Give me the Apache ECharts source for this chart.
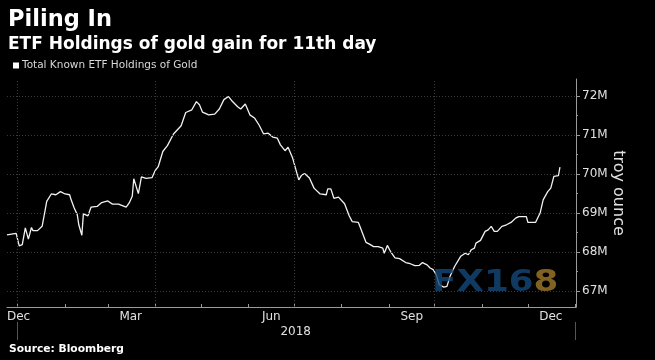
<!DOCTYPE html>
<html>
<head>
<meta charset="utf-8">
<script src="https://cdn.jsdelivr.net/npm/echarts@6/dist/echarts.min.js"></script>
<style>
  html, body { margin: 0; padding: 0; background: #000; }
  #chart { width: 655px; height: 360px; }
</style>
</head>
<body>
<div id="chart"></div>
<script>
// ---- data ----
const seriesName = 'Total Known ETF Holdings of Gold';
const dates = [
  '2017-12-25','2017-12-31','2018-01-02','2018-01-04','2018-01-06','2018-01-07','2018-01-08','2018-01-10','2018-01-11','2018-01-14',
  '2018-01-17','2018-01-19','2018-01-20','2018-01-23','2018-01-26','2018-01-29','2018-01-30','2018-02-01','2018-02-04','2018-02-05',
  '2018-02-07','2018-02-09','2018-02-10','2018-02-12','2018-02-13','2018-02-14','2018-02-16','2018-02-18','2018-02-22','2018-02-25',
  '2018-03-01','2018-03-04','2018-03-08','2018-03-13','2018-03-15','2018-03-17','2018-03-18','2018-03-19','2018-03-21','2018-03-23',
  '2018-03-26','2018-03-30','2018-04-01','2018-04-03','2018-04-06','2018-04-09','2018-04-13','2018-04-18','2018-04-21','2018-04-25',
  '2018-04-28','2018-04-30','2018-05-02','2018-05-06','2018-05-10','2018-05-13','2018-05-16','2018-05-19','2018-05-21','2018-05-25',
  '2018-05-27','2018-05-30','2018-06-02','2018-06-05','2018-06-08','2018-06-11','2018-06-14','2018-06-17','2018-06-20','2018-06-22',
  '2018-06-25','2018-06-27','2018-06-30','2018-07-04','2018-07-06','2018-07-08','2018-07-11','2018-07-14','2018-07-18','2018-07-22',
  '2018-07-23','2018-07-25','2018-07-27','2018-07-30','2018-08-03','2018-08-06','2018-08-08','2018-08-12','2018-08-13','2018-08-17',
  '2018-08-19','2018-08-22','2018-08-25','2018-08-28','2018-08-29','2018-08-31','2018-09-02','2018-09-05','2018-09-08','2018-09-12',
  '2018-09-15','2018-09-18','2018-09-21','2018-09-23','2018-09-26','2018-09-28','2018-09-30','2018-10-02','2018-10-04','2018-10-07',
  '2018-10-09','2018-10-11','2018-10-14','2018-10-18','2018-10-21','2018-10-23','2018-10-25','2018-10-27','2018-10-28','2018-10-31',
  '2018-11-01','2018-11-03','2018-11-05','2018-11-07','2018-11-09','2018-11-11','2018-11-14','2018-11-17','2018-11-20','2018-11-23',
  '2018-11-25','2018-11-30','2018-12-01','2018-12-06','2018-12-09','2018-12-11','2018-12-14','2018-12-16','2018-12-18','2018-12-21',
  '2018-12-22'
];
const holdings = [
  68.44,68.48,68.16,68.19,68.62,68.60,68.33,68.63,68.55,68.55,
  68.66,69.08,69.30,69.49,69.47,69.55,69.57,69.49,69.47,69.34,
  69.13,68.96,68.70,68.43,68.98,69.02,68.93,69.15,69.17,69.27,
  69.31,69.23,69.23,69.15,69.26,69.43,69.88,69.89,69.50,69.93,
  69.89,69.91,70.09,70.19,70.58,70.73,71.03,71.24,71.58,71.65,
  71.86,71.78,71.59,71.52,71.54,71.67,71.91,71.99,71.89,71.73,
  71.67,71.80,71.52,71.44,71.26,71.03,71.05,70.95,70.92,70.75,
  70.60,70.69,70.41,69.85,69.98,70.01,69.90,69.64,69.49,69.47,
  69.62,69.62,69.38,69.41,69.24,68.93,68.78,68.76,68.66,68.25,
  68.21,68.14,68.14,68.10,67.97,68.17,68.02,67.85,67.83,67.73,
  67.70,67.65,67.66,67.73,67.67,67.59,67.55,67.42,67.16,67.10,
  67.12,67.37,67.63,67.89,67.97,67.93,68.06,68.10,68.23,68.30,
  68.32,68.53,68.57,68.66,68.53,68.53,68.66,68.70,68.76,68.87,
  68.91,68.91,68.76,68.76,69.00,69.34,69.55,69.64,69.94,69.96,
  70.18
];
const yTicks = [67, 68, 69, 70, 71, 72];
const yMinorTicks = [67.5, 68.5, 69.5, 70.5, 71.5];
const monthTickDates = ['2018-01-01','2018-02-01','2018-03-01','2018-04-01','2018-05-01','2018-06-01',
  '2018-07-01','2018-08-01','2018-09-01','2018-10-01','2018-11-01','2018-12-01','2019-01-01'];
const quarterGridDates = ['2018-01-01','2018-04-01','2018-07-01','2018-10-01'];
const xLabelDates = ['2017-12-25','2018-03-16','2018-06-16','2018-09-16','2018-12-16'];
const xLabelTexts = ['Dec','Mar','Jun','Sep','Dec'];
const yearLabelDates = ['2018-07-02'];
const yearLabelTexts = ['2018'];
const yearBoundaryDates = ['2018-01-01','2019-01-01'];
const xMinDate = '2017-12-25';
const xMaxDate = '2019-01-01 12:00';

// ---- build ----
const P = s => +echarts.time.parse(s);
const xMin = P(xMinDate), xMax = P(xMaxDate);
const yMin = 66.59, yMax = 72.44;
const FONT = 'DejaVu Sans';
const gridColor = '#3a3a3a';
const xLabelVals = xLabelDates.map(P);
const yearLabelVals = yearLabelDates.map(P);

const chart = echarts.init(document.getElementById('chart'), null, { renderer: 'canvas' });

const gridLines = [];
quarterGridDates.forEach(d => gridLines.push({ xAxis: P(d) }));
yTicks.forEach(v => gridLines.push({ yAxis: v }));

const option = {
  backgroundColor: '#000',
  animation: false,
  title: [
    { text: 'Piling In', left: 8, top: 9, padding: 0,
      textStyle: { color: '#fff', fontFamily: FONT, fontWeight: 'bold', fontSize: 22.5 } },
    { text: 'ETF Holdings of gold gain for 11th day', left: 8, top: 36, padding: 0,
      textStyle: { color: '#fff', fontFamily: FONT, fontWeight: 'bold', fontSize: 17 } },
    { text: 'Source: Bloomberg', left: 9, top: 344, padding: 0,
      textStyle: { color: '#fff', fontFamily: FONT, fontWeight: 'bold', fontSize: 10.7 } }
  ],
  legend: {
    data: [seriesName], left: 13, top: 60, itemWidth: 6, itemHeight: 6, itemGap: 4,
    icon: 'rect', padding: 0,
    textStyle: { color: '#d8d8d8', fontFamily: FONT, fontSize: 10.5, padding: [0, 0, 0, -2] }
  },
  grid: { left: 7, right: 79, top: 79, bottom: 53 },
  xAxis: [
    {
      type: 'value', min: xMin, max: xMax, position: 'bottom',
      axisLine: { show: true, onZero: false, lineStyle: { color: '#9a9a9a', width: 1 } },
      axisTick: { show: true, inside: true, length: 3, customValues: monthTickDates.map(P),
        lineStyle: { color: '#9a9a9a' } },
      axisLabel: {
        show: true, customValues: xLabelVals, margin: 4, alignMinLabel: 'left',
        color: '#e0e0e0', fontFamily: FONT, fontSize: 12,
        formatter: v => { const i = xLabelVals.indexOf(v); return i >= 0 ? xLabelTexts[i] : ''; }
      },
      splitLine: { show: false }
    },
    {
      type: 'value', min: xMin, max: xMax, position: 'bottom', offset: 15,
      axisLine: { show: false, onZero: false },
      axisTick: { show: true, length: 18, customValues: yearBoundaryDates.map(P),
        lineStyle: { color: '#555' } },
      axisLabel: {
        show: true, customValues: yearLabelVals, margin: 4,
        color: '#e0e0e0', fontFamily: FONT, fontSize: 12,
        formatter: v => { const i = yearLabelVals.indexOf(v); return i >= 0 ? yearLabelTexts[i] : ''; }
      },
      splitLine: { show: false }
    }
  ],
  yAxis: [
    {
      type: 'value', position: 'right', min: yMin, max: yMax,
      axisLine: { show: true, lineStyle: { color: '#9a9a9a' } },
      axisTick: { show: true, length: 4, customValues: yTicks, lineStyle: { color: '#9a9a9a' } },
      axisLabel: { show: true, customValues: yTicks, margin: 6, color: '#e0e0e0',
        fontFamily: FONT, fontSize: 12, formatter: v => v + 'M' },
      splitLine: { show: false },
      name: 'troy ounce', nameLocation: 'middle', nameRotate: -90, nameGap: 34,
      nameMoveOverlap: false,
      nameTextStyle: { color: '#e0e0e0', fontFamily: FONT, fontSize: 16 }
    },
    {
      type: 'value', position: 'right', min: yMin, max: yMax,
      axisLine: { show: false },
      axisTick: { show: true, length: 2, customValues: yMinorTicks, lineStyle: { color: '#9a9a9a' } },
      axisLabel: { show: false },
      splitLine: { show: false }
    }
  ],
  graphic: [
    {
      type: 'text', left: 432, top: 268, z: 100, silent: true, scaleX: 1.19,
      style: {
        text: '{b|FX16}{g|8}', opacity: 0.8,
        rich: {
          b: { fill: '#14497a', fontFamily: FONT, fontWeight: 'bold', fontSize: 30 },
          g: { fill: '#a27b2c', fontFamily: FONT, fontWeight: 'bold', fontSize: 30 }
        }
      }
    }
  ],
  series: [
    {
      name: 'grid', type: 'line', data: [], z: 1, silent: true,
      markLine: {
        silent: true, symbol: 'none', animation: false, label: { show: false },
        lineStyle: { color: gridColor, type: [1, 2], width: 1 },
        data: gridLines
      }
    },
    {
      name: seriesName, type: 'line', z: 3,
      data: dates.map((d, i) => [P(d), holdings[i]]),
      showSymbol: false, symbol: 'none',
      itemStyle: { color: '#fff' },
      lineStyle: { color: '#f2f2f2', width: 1.3 }
    }
  ]
};
chart.setOption(option);
</script>
</body>
</html>
